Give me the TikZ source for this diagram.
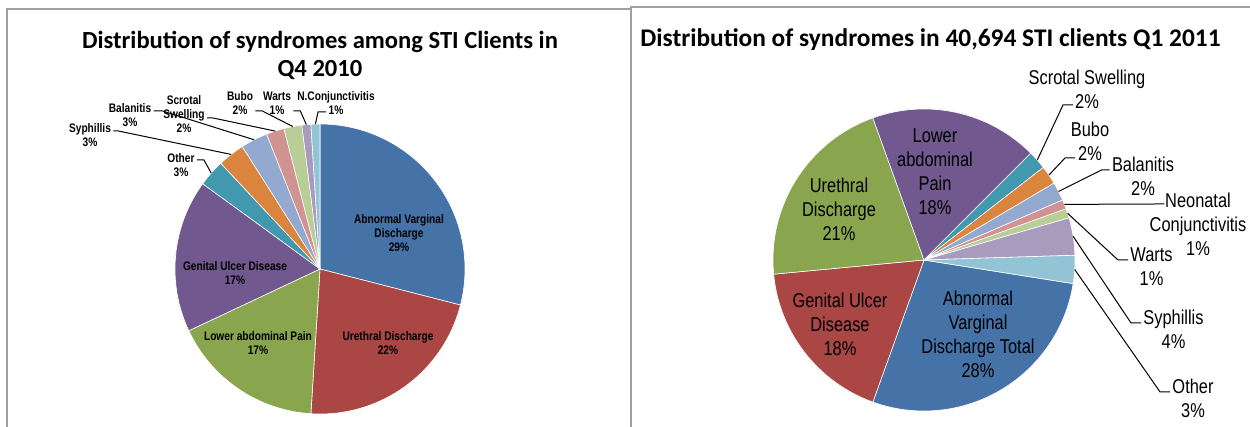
\documentclass[tikz,border=0pt]{standalone}
\usepackage{fontspec}
\setmainfont{Liberation Sans}
\newfontfamily\narrowfont[FakeStretch=0.82]{Liberation Sans}
\newfontfamily\titlefont{Carlito}
\definecolor{cblue}{RGB}{69,114,167}
\definecolor{cred}{RGB}{170,70,67}
\definecolor{cgreen}{RGB}{137,165,78}
\definecolor{cpurple}{RGB}{113,88,143}
\definecolor{cteal}{RGB}{65,152,175}
\definecolor{corange}{RGB}{219,132,61}
\definecolor{clblue}{RGB}{147,169,207}
\definecolor{cpink}{RGB}{209,147,146}
\definecolor{clgreen}{RGB}{185,205,150}
\definecolor{clav}{RGB}{169,155,189}
\definecolor{ccyan}{RGB}{146,196,214}
\definecolor{framegray}{RGB}{160,160,160}

\begin{document}
\begin{tikzpicture}[x=0.5pt, y=0.5pt,
  sl/.style={draw=white, line width=0.3pt},
  lab1/.style={font=\narrowfont\bfseries\fontsize{6.2}{7}\selectfont, align=center, inner sep=1pt},
  lab2/.style={font=\narrowfont\fontsize{10}{12}\selectfont, align=center, inner sep=1pt},
  ttl/.style={font=\titlefont\bfseries\fontsize{12.3}{14}\selectfont, align=center, inner sep=0pt},
  leader/.style={line width=0.5pt},
  frame/.style={draw=framegray, line width=0.6pt}]
\useasboundingbox (0,0) rectangle (1250,427);
\fill[white] (0,0) rectangle (1250,427);

\draw [frame] (7,0) -- (7,418) -- (631,418);
\draw [frame] (631,0) -- (631,420) -- (1250,420);

\node[ttl] (tit1) at (320,372) {Distribution of syndromes among STI Clients in\\Q4 2010};
\node[ttl, anchor=west, font=\titlefont\bfseries\fontsize{12.7}{14}\selectfont] (tit2) at (640,387) {Distribution of syndromes in 40,694 STI clients Q1 2011};

\coordinate (c1) at (320,158);
\draw [sl, fill=cblue] (c1) -- ++(90:145) arc[start angle=90, end angle=-14.4, radius=145] -- cycle;
\draw [sl, fill=cred] (c1) -- ++(-14.4:145) arc[start angle=-14.4, end angle=-93.6, radius=145] -- cycle;
\draw [sl, fill=cgreen] (c1) -- ++(-93.6:145) arc[start angle=-93.6, end angle=-154.8, radius=145] -- cycle;
\draw [sl, fill=cpurple] (c1) -- ++(-154.8:145) arc[start angle=-154.8, end angle=-216, radius=145] -- cycle;
\draw [sl, fill=cteal] (c1) -- ++(144:145) arc[start angle=144, end angle=133.2, radius=145] -- cycle;
\draw [sl, fill=corange] (c1) -- ++(133.2:145) arc[start angle=133.2, end angle=122.4, radius=145] -- cycle;
\draw [sl, fill=clblue] (c1) -- ++(122.4:145) arc[start angle=122.4, end angle=111.6, radius=145] -- cycle;
\draw [sl, fill=cpink] (c1) -- ++(111.6:145) arc[start angle=111.6, end angle=104.4, radius=145] -- cycle;
\draw [sl, fill=clgreen] (c1) -- ++(104.4:145) arc[start angle=104.4, end angle=97.2, radius=145] -- cycle;
\draw [sl, fill=clav] (c1) -- ++(97.2:145) arc[start angle=97.2, end angle=93.6, radius=145] -- cycle;
\draw [sl, fill=ccyan] (c1) -- ++(93.6:145) arc[start angle=93.6, end angle=90, radius=145] -- cycle;

\node[lab1] (avd1) at (399,194) {Abnormal Varginal\\Discharge\\29\%};
\node[lab1] (ud1) at (388,84) {Urethral Discharge\\22\%};
\node[lab1] (lap1) at (258,84) {Lower abdominal Pain\\17\%};
\node[lab1] (gud1) at (235,154) {Genital Ulcer Disease\\17\%};
\node[lab1] (oth1) at (181,262) {Other\\3\%};
\node[lab1] (syp1) at (90,292) {Syphillis\\3\%};
\node[lab1] (bal1) at (130,311.5) {Balanitis\\3\%};
\node[lab1] (scr1) at (184,313) {Scrotal\\Swelling\\2\%};
\node[lab1] (bub1) at (240,323.5) {Bubo\\2\%};
\node[lab1] (war1) at (277,323.5) {Warts\\1\%};
\node[lab1] (nc1) at (336,323.5) {N.Conjunctivitis\\1\%};

\coordinate (eoth1) at ([shift={(138.6:145)}]c1);
\coordinate (esyp1) at ([shift={(127.8:145)}]c1);
\coordinate (ebal1) at ([shift={(117:145)}]c1);
\coordinate (escr1) at ([shift={(108:145)}]c1);
\coordinate (ebub1) at ([shift={(100.8:145)}]c1);
\coordinate (ewar1) at ([shift={(95.4:145)}]c1);
\coordinate (enc1) at ([shift={(91.8:145)}]c1);

\draw [leader] ([yshift=2.5pt]oth1.east) -- ++(7,0) -- (eoth1);
\draw [leader] ([yshift=2pt]syp1.east) -- ++(5,0) -- (esyp1);
\draw [leader] ([yshift=2.25pt]bal1.east) -- ++(9,0) -- (ebal1);
\draw [leader] ([yshift=-2pt]scr1.east) -- ++(6,0) -- (escr1);
\draw [leader] ([yshift=-3.75pt]bub1.east) -- ++(7,0) -- (ebub1);
\draw [leader] ([yshift=-3.75pt]war1.east) -- ++(7,0) -- (ewar1);
\draw [leader] ([xshift=-5pt,yshift=-4.25pt]nc1.center) -- ++(-8,0) -- (enc1);

\coordinate (c2) at (924,167);
\draw [sl, fill=cblue] (c2) -- ++(-9:151) arc[start angle=-9, end angle=-109.8, radius=151] -- cycle;
\draw [sl, fill=cred] (c2) -- ++(-109.8:151) arc[start angle=-109.8, end angle=-174.6, radius=151] -- cycle;
\draw [sl, fill=cgreen] (c2) -- ++(-174.6:151) arc[start angle=-174.6, end angle=-250.2, radius=151] -- cycle;
\draw [sl, fill=cpurple] (c2) -- ++(-250.2:151) arc[start angle=-250.2, end angle=-315, radius=151] -- cycle;
\draw [sl, fill=cteal] (c2) -- ++(45:151) arc[start angle=45, end angle=37.8, radius=151] -- cycle;
\draw [sl, fill=corange] (c2) -- ++(37.8:151) arc[start angle=37.8, end angle=30.6, radius=151] -- cycle;
\draw [sl, fill=clblue] (c2) -- ++(30.6:151) arc[start angle=30.6, end angle=23.4, radius=151] -- cycle;
\draw [sl, fill=cpink] (c2) -- ++(23.4:151) arc[start angle=23.4, end angle=19.8, radius=151] -- cycle;
\draw [sl, fill=clgreen] (c2) -- ++(19.8:151) arc[start angle=19.8, end angle=16.2, radius=151] -- cycle;
\draw [sl, fill=clav] (c2) -- ++(16.2:151) arc[start angle=16.2, end angle=1.8, radius=151] -- cycle;
\draw [sl, fill=ccyan] (c2) -- ++(1.8:151) arc[start angle=1.8, end angle=-9, radius=151] -- cycle;

\node[lab2] (lap2) at (935,255) {Lower\\abdominal\\Pain\\18\%};
\node[lab2] (ud2) at (839,218) {Urethral\\Discharge\\21\%};
\node[lab2] (gud2) at (840,103) {Genital Ulcer\\Disease\\18\%};
\node[lab2] (avd2) at (978,93) {Abnormal\\Varginal\\Discharge Total\\28\%};
\node[lab2] (scr2) at (1087,337.5) {Scrotal Swelling\\2\%};
\node[lab2] (bub2) at (1090,285.5) {Bubo\\2\%};
\node[lab2] (bal2) at (1143,250.5) {Balanitis\\2\%};
\node[lab2] (nc2) at (1198,203) {Neonatal\\Conjunctivitis\\1\%};
\node[lab2] (war2) at (1151.5,160.5) {Warts\\1\%};
\node[lab2] (syp2) at (1173.5,97.5) {Syphillis\\4\%};
\node[lab2] (oth2) at (1193,28.5) {Other\\3\%};

\coordinate (escr2) at ([shift={(41.4:151)}]c2);
\coordinate (ebub2) at ([shift={(34.2:151)}]c2);
\coordinate (ebal2) at ([shift={(27:151)}]c2);
\coordinate (enc2) at ([shift={(21.6:151)}]c2);
\coordinate (ewar2) at ([shift={(18:151)}]c2);
\coordinate (esyp2) at ([shift={(9:151)}]c2);
\coordinate (eoth2) at ([shift={(-3.6:151)}]c2);

\draw [leader] ([xshift=-7pt,yshift=-7.75pt]scr2.center) -- ++(-10,0) -- (escr2);
\draw [leader] ([xshift=-7.5pt,yshift=-8.25pt]bub2.center) -- ++(-10,0) -- (ebub2);
\draw [leader] ([yshift=3.25pt]bal2.west) -- ++(-8,0) -- (ebal2);
\draw [leader] ([xshift=8.5pt,yshift=10pt]nc2.west) -- ++(-8,0) -- (enc2);
\draw [leader] ([yshift=3.25pt]war2.west) -- ++(-10,0) -- (ewar2);
\draw [leader] ([yshift=3.25pt]syp2.west) -- ++(-10,0) -- (esyp2);
\draw [leader] ([yshift=3.25pt]oth2.west) -- ++(-10,0) -- (eoth2);
\end{tikzpicture}
\end{document}
